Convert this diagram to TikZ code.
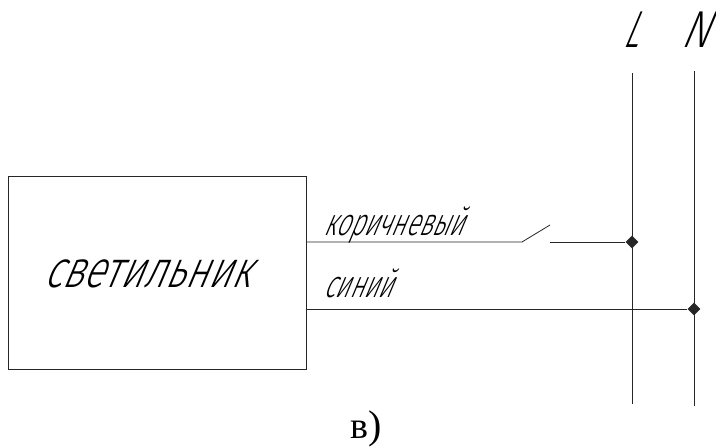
\documentclass[tikz,border=0pt]{standalone}
\usepackage{fontspec}
\setmainfont{Liberation Serif}
\newfontfamily\cadbig[FakeSlant=0.42,FakeStretch=0.75]{Fira Sans Light}
\newfontfamily\cadsmall[FakeSlant=0.42,FakeStretch=0.64]{Fira Sans Light}
\newfontfamily\cadcap[FakeSlant=0.42,FakeStretch=0.62]{Fira Sans Light}
\newfontfamily\cadwide[FakeSlant=0.42,FakeStretch=0.78]{Fira Sans Light}
\usetikzlibrary{shapes.geometric}
\tikzset{
  wire/.style={draw=black!85,line width=0.8pt},
  junction/.style={diamond,fill=black!85,inner sep=0pt,minimum size=13pt},
  cad/.style={inner sep=0pt,anchor=base west,text=black}
}
\begin{document}
\begin{tikzpicture}[x=1pt,y=-1pt]
\useasboundingbox (0,0) rectangle (716,447);
\fill[white] (0,0) rectangle (716,447);
% box
\node[wire,draw,minimum width=298pt,minimum height=193pt,inner sep=0pt] (lamp) at (157.5,272.5) {};
\node[cad] (lamptext) at (43,287) {\cadbig\fontsize{52}{52}\selectfont светильник};
% busbars
\coordinate (Ltop) at (632,73);
\coordinate (Lbot) at (632,404);
\coordinate (Ntop) at (694,71);
\coordinate (Nbot) at (694,406);
\draw[wire] (Ltop) -- (Lbot);
\draw[wire] (Ntop) -- (Nbot);
% junctions
\node[junction] (jL) at (632,242) {};
\node[junction] (jN) at (694,309) {};
% wires
\coordinate (brownstart) at (lamp.east |- jL);
\coordinate (swA) at (522,242);
\coordinate (swB) at (550,225);
\coordinate (swC) at (550,242);
\draw[wire] (brownstart) -- (swA) -- (swB);
\draw[wire] (swC) -- (jL);
\draw[wire] (lamp.east |- jN) -- (jN);
% labels
\node[cad] (brown) at (323,235) {\cadsmall\fontsize{38}{38}\selectfont коричневый};
\node[cad] (blue) at (323,297) {\cadsmall\fontsize{38}{38}\selectfont синий};
\node[cad] (L) at (622,47) {\cadcap\fontsize{52}{52}\selectfont L};
\node[cad] (N) at (680,48) {\cadwide\fontsize{52}{52}\selectfont N};
\node[inner sep=0pt,anchor=base west] (cap) at (350,438) {\fontsize{38}{38}\selectfont в\fontsize{40}{40}\selectfont)};
\end{tikzpicture}
\end{document}
